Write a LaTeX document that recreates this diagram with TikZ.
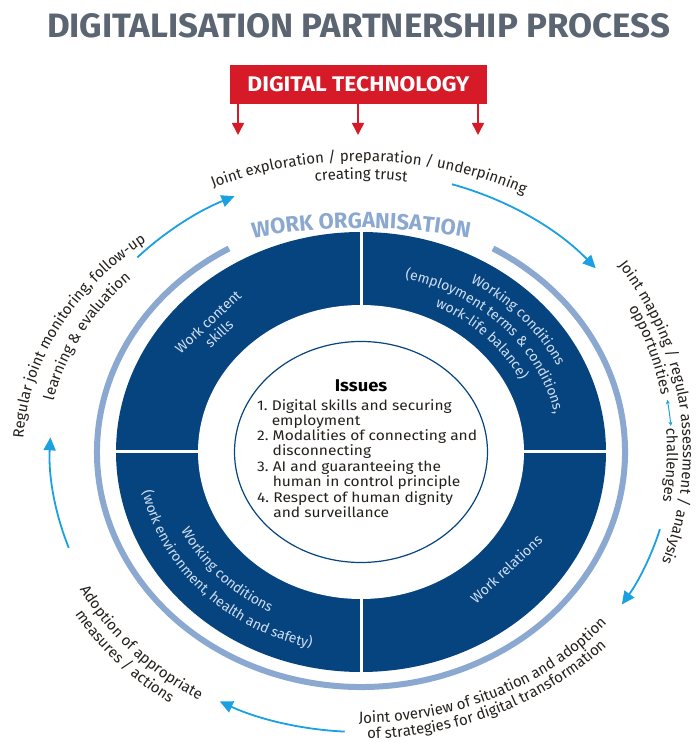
\documentclass[tikz,border=0pt]{standalone}
\usepackage{fontspec}
\setmainfont{Fira Sans}
\usetikzlibrary{arrows.meta,decorations.text}
\definecolor{titlegray}{RGB}{92,102,114}
\definecolor{dtred}{RGB}{214,26,40}
\definecolor{navy}{RGB}{6,68,128}
\definecolor{ringblue}{RGB}{138,168,208}
\definecolor{cyc}{RGB}{27,160,226}
\definecolor{txt}{RGB}{36,32,28}
\definecolor{qtxt}{RGB}{208,222,240}
\newcommand\ft{\fontsize{15}{15}\selectfont\color{txt}}
\newcommand\fq{\fontsize{14}{14}\selectfont\color{qtxt}}
\newcommand\fw{\fontsize{22}{22}\selectfont\bfseries\color{ringblue}}
\newcommand\arctxt[6]{\path[decorate,decoration={text along path,text align=center,text={|#5|#6}}] ({361+#1*cos(#3)},{290+#2*sin(#3)}) arc[start angle=#3,end angle=#4,x radius=#1pt,y radius=#2pt];}
\newcommand\cycarrow[2]{\draw[cycline] ({361+311*cos(#1)},{290+280*sin(#1)}) arc[start angle=#1,end angle=#2,x radius=311pt,y radius=280pt];}
\tikzset{
  cycline/.style={cyc,line width=1.8pt,-{Triangle[length=13pt,width=12pt]}},
  redarrow/.style={dtred,line width=1.6pt,-{Triangle[length=12pt,width=12pt]}},
  qlabel/.style={font=\fontsize{14}{16}\selectfont,text=qtxt,align=center,inner sep=0},
}
\begin{document}
\begin{tikzpicture}[x=1pt,y=1pt]
\fill[white] (0,0) rectangle (700,742);
\path[use as bounding box] (0,0) rectangle (700,742);
\coordinate (C) at (361,290);
% title
\node[anchor=base,inner sep=0,text=titlegray] (title) at (358.5,704) {\resizebox{623pt}{24pt}{\bfseries DIGITALISATION PARTNERSHIP PROCESS}};
% digital technology
\node[fill=dtred,minimum width=257pt,minimum height=39pt,inner sep=0] (dt) at (358.5,657.5) {\color{white}\resizebox{222pt}{15pt}{\bfseries DIGITAL TECHNOLOGY}};
\coordinate (t1) at (238,607);
\coordinate (t2) at (358,607);
\coordinate (t3) at (478,607);
\draw[redarrow] (dt.south -| t1) -- (t1);
\draw[redarrow] (dt.south -| t2) -- (t2);
\draw[redarrow] (dt.south -| t3) -- (t3);
% cycle arrows
\cycarrow{136}{114}
\cycarrow{73}{41}
\cycarrow{-16}{-33}
\cycarrow{267}{243}
\cycarrow{200}{177}
% cycle texts
\arctxt{352}{291}{140}{37}{\ft}{Joint exploration / preparation / underpinning}
\arctxt{328}{273}{120}{60}{\ft}{creating trust}
\arctxt{322}{310}{60}{-44}{\ft}{Joint mapping / regular assessment / analysis}
\arctxt{306}{296}{40}{0}{\ft}{opportunities}
\arctxt{306}{296}{20}{-25}{\ft}{challenges}
\draw[cyc,line width=1pt,{Stealth[length=4pt,width=4pt]}-{Stealth[length=4pt,width=4pt]}] ({361+311*cos(10)},{290+300*sin(10)}) arc[start angle=10,end angle=5,x radius=311pt,y radius=300pt];
\arctxt{318}{271}{-120}{-6}{\ft}{Joint overview of situation and adoption}
\arctxt{334}{287}{-120}{-8}{\ft}{of strategies for digital transformation}
\arctxt{320}{288}{183}{263}{\ft}{Adoption of appropriate}
\arctxt{338}{305}{188}{258}{\ft}{measures / actions}
\arctxt{338}{272}{200}{110}{\ft}{Regular joint monitoring, follow-up}
\arctxt{314}{254}{195}{114}{\ft}{learning {\&} evaluation}
% work organisation ring
\draw[ringblue,line width=6pt] ({361+264*cos(120)},{290+235*sin(120)}) arc[start angle=120,end angle=420,x radius=264pt,y radius=235pt];
\arctxt{360}{224}{135}{45}{\fw}{WORK ORGANISATION}
% dark annulus
\fill[navy] (C) ellipse[x radius=245pt,y radius=220pt];
\fill[white] (C) ellipse[x radius=163pt,y radius=147pt];
\draw[white,line width=3pt] (361,68) -- (361,512);
\draw[white,line width=3pt] (114,290) -- (608,290);
\draw[navy,line width=1.2pt,fill=white] (C) ellipse[x radius=126.5pt,y radius=110.5pt];
% quadrant labels
\node[qlabel,rotate=43] (wc) at (213.5,414.5) {Work content\\skills};
\node[qlabel,rotate=43] (wr) at (506,173) {Work relations};
\arctxt{218}{196}{80}{4}{\fq}{Working conditions}
\arctxt{198}{178}{90}{-2}{\fq}{(employment terms {\&} conditions,}
\arctxt{178}{160}{85}{5}{\fq}{work-life balance)}
\arctxt{200}{180}{185}{262}{\fq}{Working conditions}
\arctxt{223}{201}{175}{272}{\fq}{(work environment, health and safety)}
% issues
\node[font=\bfseries\fontsize{17}{17}\selectfont,text=black,anchor=base,inner sep=0] (iss) at (361,350) {\scalebox{1.08}[1]{Issues}};
\node[align=left,anchor=north west,inner sep=0,font=\fontsize{14}{15}\selectfont,text=txt] (list) at (257,343) {\scalebox{1.11}[1]{\begin{tabular}{@{}l@{}}1.~Digital skills and securing\\\phantom{1.~}employment\\2.~Modalities of connecting and\\\phantom{2.~}disconnecting\\3.~AI and guaranteeing the\\\phantom{3.~}human in control principle\\4.~Respect of human dignity\\\phantom{4.~}and surveillance\end{tabular}}};
\end{tikzpicture}
\end{document}
